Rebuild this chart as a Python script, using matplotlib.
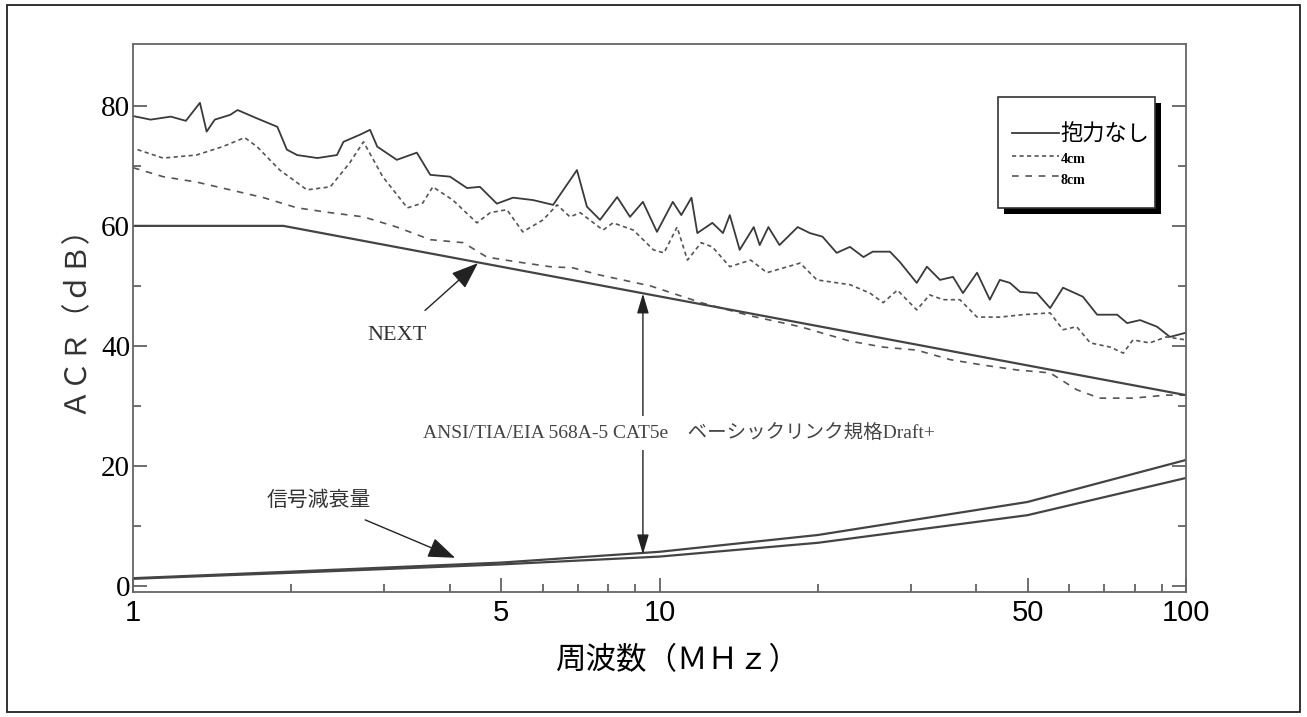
import matplotlib
matplotlib.use("Agg")
import matplotlib.pyplot as plt
from matplotlib.patches import Rectangle
from matplotlib.ticker import FixedLocator, NullFormatter

# ---------------- data ----------------
f_none = [1.00,1.08,1.18,1.26,1.34,1.38,1.43,1.53,1.58,1.71,1.88,1.96,2.05,2.24,2.44,2.51,2.70,2.82,2.91,3.17,
          3.46,3.67,4.00,4.31,4.56,4.91,5.27,5.75,6.28,6.97,7.28,7.71,8.31,8.79,9.30,9.89,10.6,11.0,11.5,11.8,
          12.6,13.2,13.6,14.2,15.1,15.5,16.1,16.9,18.3,19.3,20.4,21.7,23.0,24.4,25.4,27.4,28.6,30.8,32.2,34.1,
          36.1,37.7,40.1,42.4,44.3,46.3,48.4,52.1,55.2,58.4,63.7,67.8,74.0,77.3,81.8,88.1,93.2,100]
acr_none = [78.3,77.7,78.2,77.5,80.5,75.7,77.7,78.5,79.3,78.0,76.5,72.7,71.8,71.3,71.8,74.0,75.2,76.0,73.2,71.0,
            72.2,68.5,68.2,66.3,66.5,63.7,64.7,64.3,63.5,69.3,63.2,61.0,64.8,61.5,64.0,59.0,64.0,61.8,64.7,58.8,
            60.5,58.8,61.8,56.0,59.8,56.8,59.8,56.8,59.8,58.8,58.2,55.5,56.5,54.8,55.7,55.7,54.0,50.5,53.2,51.0,
            51.5,48.8,52.2,47.7,51.0,50.5,49.0,48.8,46.3,49.7,48.2,45.2,45.2,43.8,44.3,43.2,41.5,42.2]

f_4cm = [1.02,1.14,1.32,1.48,1.63,1.72,1.90,2.14,2.37,2.58,2.74,2.98,3.32,3.55,3.71,4.05,4.50,4.77,5.13,5.50,
         6.01,6.39,6.76,7.07,7.81,8.16,8.92,9.74,10.2,10.8,11.3,12.0,12.6,13.6,14.9,16.0,18.5,19.9,23.0,25.1,
         26.6,28.3,30.8,32.6,34.6,37.2,40.1,44.3,49.0,55.2,58.4,62.0,65.8,71.8,76.0,79.3,85.3,91.8,100]
acr_4cm = [72.7,71.3,71.8,73.2,74.7,73.2,69.3,66.0,66.5,70.5,74.0,68.2,63.0,63.8,66.5,64.3,60.5,62.2,62.7,59.0,
           61.0,63.5,61.5,62.2,59.3,60.5,59.3,56.0,55.5,59.8,54.3,57.2,56.5,53.2,54.3,52.2,53.8,51.0,50.2,48.8,
           47.2,49.3,46.0,48.5,47.7,47.7,44.8,44.8,45.2,45.5,42.7,43.2,40.5,39.8,38.8,41.0,40.5,41.5,41.0]

f_8cm = [1.00,1.14,1.32,1.53,1.77,2.05,2.37,2.74,3.17,3.67,4.24,4.70,5.36,6.20,6.85,7.71,9.61,12.0,14.9,18.5,
         23.0,26.6,30.8,35.7,41.2,47.7,55.2,62.0,68.5,79.3,91.8,100]
acr_8cm = [69.7,68.2,67.3,66.0,64.7,63.0,62.2,61.5,59.8,57.7,57.2,54.8,54.0,53.2,53.0,51.8,50.0,47.2,45.0,43.2,
           40.8,39.8,39.3,37.7,36.8,36.0,35.5,32.7,31.3,31.3,31.8,31.8]

f_next = [1.0, 1.93, 100]
next_std = [60.0, 60.0, 31.8]

f_att = [1, 2, 5, 10, 20, 50, 100]
att_a = [1.3, 2.4, 3.9, 5.7, 8.5, 14.0, 21.0]
att_b = [1.2, 2.2, 3.6, 4.9, 7.2, 11.8, 18.0]

x_major = [1, 5, 10, 50, 100]
x_major_labels = ["1", "5", "10", "50", "100"]
y_major = [0, 20, 40, 60, 80]
y_minor = [10, 30, 50, 70]

legend_labels = ["抱力なし", "4cm", "8cm"]
arrow_f, arrow_top, arrow_bottom = 9.3, 48.7, 5.3

# ---------------- figure ----------------
W, H = 1307, 717
fig = plt.figure(figsize=(W/100, H/100), dpi=100)
fig.patch.set_facecolor("white")
ax = fig.add_axes([133/W, 1-592/H, (1186-133)/W, (592-44)/H])

JP = ["Noto Sans CJK JP", "DejaVu Sans"]
SERIF = ["Liberation Serif", "Noto Sans CJK JP", "DejaVu Serif"]
SANS = ["Liberation Sans", "DejaVu Sans"]

def ax_x(px):
    return (px - 133) / 1053

def ax_y(py):
    return (592 - py) / 548

l1, = ax.plot(f_none, acr_none, color="#3a3a3a", lw=1.3, ls="-")
l2, = ax.plot(f_4cm, acr_4cm, color="#555555", lw=1.2, ls=(0, (2.5, 2.0)))
l3, = ax.plot(f_8cm, acr_8cm, color="#555555", lw=1.2, ls=(0, (4, 4)))
ax.plot(f_next, next_std, color="#444444", lw=1.6)
ax.plot(f_att, att_a, color="#444444", lw=1.6)
ax.plot(f_att, att_b, color="#444444", lw=1.6)

ax.set_xscale("log")
ax.set_xlim(1, 100)
ax.set_ylim(-1, 90.3)

ax.xaxis.set_major_locator(FixedLocator(x_major))
ax.set_xticklabels(x_major_labels, family=SANS, fontsize=21)
ax.xaxis.set_minor_locator(FixedLocator([2, 3, 4, 6, 7, 8, 9, 20, 30, 40, 60, 70, 80, 90]))
ax.xaxis.set_minor_formatter(NullFormatter())
ax.yaxis.set_major_locator(FixedLocator(y_major))
ax.yaxis.set_minor_locator(FixedLocator(y_minor))
ax.set_yticklabels([str(v) for v in y_major], family=SERIF, fontsize=21)

ax.tick_params(axis="both", which="both", direction="in", color="#555555", width=1.2)
ax.tick_params(axis="y", which="both", right=True)
ax.tick_params(axis="x", which="major", length=10, pad=5)
ax.tick_params(axis="x", which="minor", length=6)
ax.tick_params(axis="y", which="major", length=10, pad=2)
ax.tick_params(axis="y", which="minor", length=6)
for s in ax.spines.values():
    s.set_color("#666666")
    s.set_linewidth(1.3)

ax.set_xlabel("周波数（ＭＨｚ）", family=JP, fontsize=22)
ax.xaxis.set_label_coords(ax_x(678), ax_y(661))
ax.xaxis.label.set_va("center")
ax.set_ylabel("ＡＣＲ（ｄＢ）", family=JP, fontsize=21, color="#333333")
ax.yaxis.set_label_coords(ax_x(75), ax_y(312))
ax.yaxis.label.set_va("center")

# legend (frame + shadow drawn as patches behind it)
shadow = Rectangle((ax_x(1004), ax_y(214)), ax_x(1155) - ax_x(998), ax_y(97) - ax_y(208),
                   transform=ax.transAxes, facecolor="black", edgecolor="none", zorder=5)
frame = Rectangle((ax_x(998), ax_y(208)), ax_x(1155) - ax_x(998), ax_y(97) - ax_y(208),
                  transform=ax.transAxes, facecolor="white", edgecolor="#333333", lw=1.2, zorder=6)
ax.add_patch(shadow)
ax.add_patch(frame)
leg = ax.legend([l1, l2, l3], legend_labels, loc="upper left",
                bbox_to_anchor=(ax_x(1012), ax_y(123)), borderaxespad=0, borderpad=0,
                frameon=False, prop={"family": JP, "size": 16},
                handlelength=2.1, handletextpad=0.1, labelspacing=0.08)
leg.set_zorder(7)
for t in leg.get_texts()[1:]:
    t.set_fontfamily(SERIF)
    t.set_fontsize(10)
    t.set_fontweight("bold")

# annotations
ax.annotate("NEXT", xy=(4.52, 53.8), xytext=(3.17, 41.7), ha="center", va="center",
            family=SERIF, fontsize=16, color="#333333",
            arrowprops=dict(arrowstyle="-|>,head_length=1.2,head_width=0.45", color="#222222",
                            lw=1.0, shrinkA=14, shrinkB=0, mutation_scale=14))
ax.annotate("信号減衰量", xy=(4.09, 4.7), xytext=(2.25, 14.3), ha="center", va="center",
            family=JP, fontsize=15, color="#333333",
            arrowprops=dict(arrowstyle="-|>,head_length=1.2,head_width=0.45", color="#222222",
                            lw=1.0, shrinkA=11, shrinkB=0, mutation_scale=14))
ax.annotate("", xy=(arrow_f, arrow_top), xytext=(arrow_f, arrow_bottom),
            arrowprops=dict(arrowstyle="<|-|>,head_length=1.0,head_width=0.3", color="#222222",
                            lw=1.0, shrinkA=0, shrinkB=0, mutation_scale=12))
ax.text(10.9, 25.5, "ANSI/TIA/EIA 568A-5 CAT5e　ベーシックリンク規格Draft+", ha="center", va="center",
        family=SERIF, fontsize=14, color="#444444",
        bbox=dict(facecolor="white", edgecolor="none", pad=6))

# figure border
fig.add_artist(Rectangle((7/W, 5/H), (1300-7)/W, (712-5)/H, transform=fig.transFigure,
                         fill=False, lw=1.3, edgecolor="#222222"))

fig.savefig("out.png", dpi=100, facecolor="white")
